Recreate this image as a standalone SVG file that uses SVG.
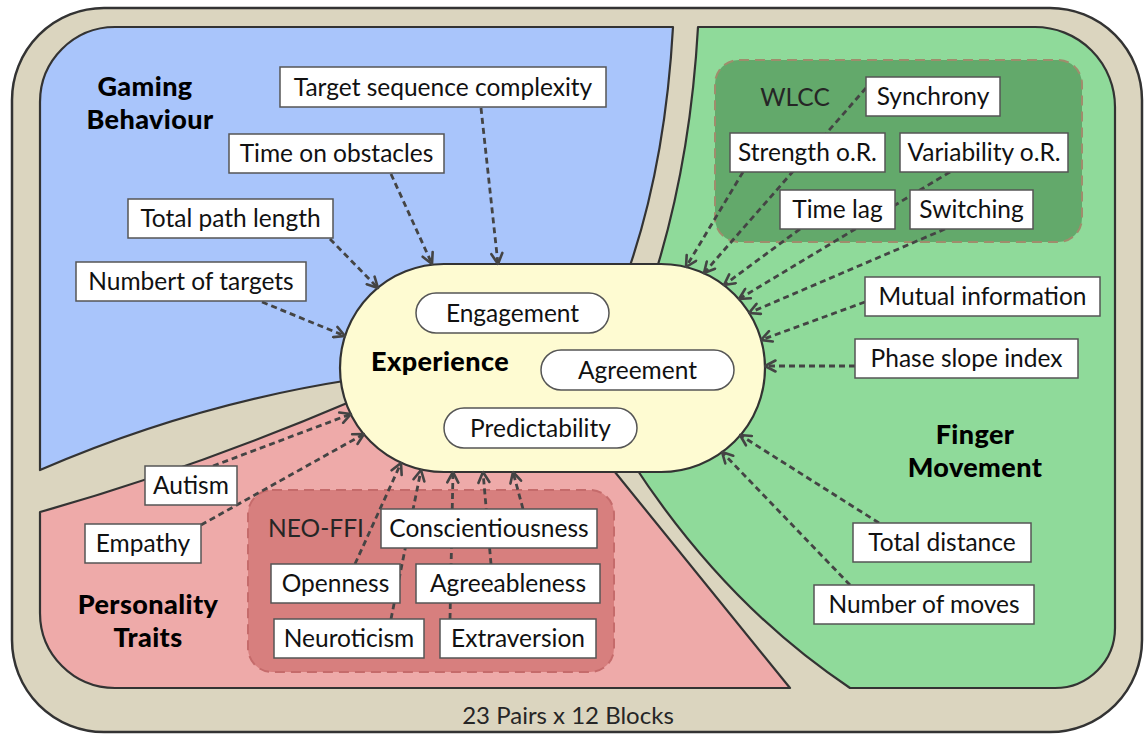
<svg xmlns="http://www.w3.org/2000/svg" width="1144" height="735" viewBox="0 0 1144 735">
  <defs>
    <marker id="chev" viewBox="0 0 14 14" refX="12.5" refY="7" markerWidth="14" markerHeight="14" markerUnits="userSpaceOnUse" orient="auto">
      <path d="M2,1.5 L12.5,7 L2,12.5" fill="none" stroke="#444" stroke-width="2.6" stroke-linecap="round" stroke-linejoin="round"/>
    </marker>
    <style>
      .frame { fill: #dbd5bf; stroke: #333; stroke-width: 2.5; }
      .region { stroke: #333; stroke-width: 2.2; stroke-linejoin: round; }
      .blue { fill: #a9c5fb; }
      .green { fill: #8fda9a; }
      .pink { fill: #eeaaa9; }
      .grp-wlcc { fill: #63a96b; stroke: #a08c6c; stroke-width: 2; stroke-dasharray: 10 6; }
      .grp-neo { fill: #d77f7e; stroke: #c56b6b; stroke-width: 2; stroke-dasharray: 10 6; }
      .core { fill: #fefbd2; stroke: #333; stroke-width: 2.2; }
      .box { fill: #fff; stroke: #555; stroke-width: 1.5; }
      .pill { fill: #fff; stroke: #555; stroke-width: 1.5; }
      .lbl { font-family: Lato, "Noto Sans", sans-serif; font-size: 24.5px; fill: #111; text-anchor: middle; }
      .title { font-family: Lato, "Noto Sans", sans-serif; font-size: 27px; font-weight: 900; fill: #000; text-anchor: middle; letter-spacing: 0.4px; }
      .grp-lbl { font-family: Lato, "Noto Sans", sans-serif; font-size: 24.5px; fill: #262626; text-anchor: middle; }
      .edge { fill: none; stroke: #444; stroke-width: 2.8; stroke-dasharray: 6 4; marker-end: url(#chev); }
    </style>
  </defs>

  <!-- outer frame -->
  <rect class="frame" x="12" y="8" width="1130" height="724" rx="92" ry="92"/>

  <!-- category regions -->
  <path id="region-gaming" class="region blue" d="M40,470 L40,102 A75,75 0 0 1 115,27 L673,27 Q665,170 625,280 L500,360 L350,380 Q190,405 40,470 Z"/>
  <path id="region-finger" class="region green" d="M698,27 L1035,27 A80,80 0 0 1 1115,107 L1115,628 A60,60 0 0 1 1055,688 L850,688 Q724.6,604.4 632,462 L650,290 Q690,170 698,27 Z"/>
  <path id="region-personality" class="region pink" d="M40,512 Q190,470 352,401 L500,440 L606,461 L790,688 L115,688 A75,75 0 0 1 40,613 Z"/>

  <!-- sub-groups -->
  <g id="group-wlcc">
    <rect class="grp-wlcc" x="715" y="60" width="367" height="182" rx="24" ry="24"/>
    <text class="grp-lbl" x="795" y="106">WLCC</text>
  </g>
  <g id="group-neo-ffi">
    <rect class="grp-neo" x="248" y="490" width="366" height="182" rx="24" ry="24"/>
    <text class="grp-lbl" x="316" y="537">NEO-FFI</text>
  </g>

  <!-- central experience node -->
  <g id="experience">
    <rect class="core" x="340" y="264" width="425" height="208" rx="104" ry="104"/>
    <text class="title" x="440" y="371">Experience</text>
    <g id="engagement">
      <rect class="pill" x="416" y="293" width="193" height="40" rx="20" ry="20"/>
      <text class="lbl" x="512.5" y="322">Engagement</text>
    </g>
    <g id="agreement">
      <rect class="pill" x="541" y="350" width="193" height="40" rx="20" ry="20"/>
      <text class="lbl" x="637.5" y="379">Agreement</text>
    </g>
    <g id="predictability">
      <rect class="pill" x="444" y="408" width="193" height="40" rx="20" ry="20"/>
      <text class="lbl" x="540.5" y="437">Predictability</text>
    </g>
  </g>

  <!-- connectors -->
  <g id="connectors">
    <line class="edge" x1="481" y1="108" x2="498" y2="264"/>
    <line class="edge" x1="391" y1="174" x2="432" y2="264"/>
    <line class="edge" x1="330" y1="239" x2="378" y2="288"/>
    <line class="edge" x1="262" y1="302" x2="345" y2="336"/>

    <line class="edge" x1="743" y1="172" x2="686" y2="267"/>
    <line class="edge" x1="866" y1="88" x2="704" y2="273"/>
    <line class="edge" x1="800" y1="229" x2="724" y2="285"/>
    <line class="edge" x1="950" y1="172" x2="739" y2="299"/>
    <line class="edge" x1="945" y1="229" x2="749" y2="313"/>
    <line class="edge" x1="865" y1="302" x2="761" y2="340"/>
    <line class="edge" x1="855" y1="366" x2="765" y2="366"/>
    <line class="edge" x1="879" y1="523" x2="740" y2="435"/>
    <line class="edge" x1="850" y1="585" x2="722" y2="452"/>

    <line class="edge" x1="213" y1="466" x2="351" y2="414"/>
    <line class="edge" x1="201" y1="525" x2="364" y2="434"/>
    <line class="edge" x1="355" y1="564" x2="401" y2="463"/>
    <line class="edge" x1="391" y1="619" x2="421" y2="470"/>
    <line class="edge" x1="450" y1="619" x2="453" y2="472"/>
    <line class="edge" x1="491" y1="564" x2="483" y2="472"/>
    <line class="edge" x1="523" y1="509" x2="513" y2="472"/>
  </g>

  <!-- region titles -->
  <g id="title-gaming">
    <text class="title" x="145" y="96">Gaming</text>
    <text class="title" x="150" y="129">Behaviour</text>
  </g>
  <g id="title-finger">
    <text class="title" x="975" y="444">Finger</text>
    <text class="title" x="975" y="477">Movement</text>
  </g>
  <g id="title-personality">
    <text class="title" x="148" y="614">Personality</text>
    <text class="title" x="148" y="647">Traits</text>
  </g>

  <!-- gaming behaviour features -->
  <g id="target-sequence-complexity"><rect class="box" x="280" y="67" width="326" height="40"/><text class="lbl" x="443" y="96">Target sequence complexity</text></g>
  <g id="time-on-obstacles"><rect class="box" x="229" y="134" width="215" height="39"/><text class="lbl" x="336.5" y="162">Time on obstacles</text></g>
  <g id="total-path-length"><rect class="box" x="128" y="199" width="205" height="39"/><text class="lbl" x="230.5" y="227">Total path length</text></g>
  <g id="number-of-targets"><rect class="box" x="76" y="262" width="230" height="39"/><text class="lbl" x="191" y="290">Numbert of targets</text></g>

  <!-- finger movement features -->
  <g id="synchrony"><rect class="box" x="866" y="77" width="134" height="39"/><text class="lbl" x="933" y="105">Synchrony</text></g>
  <g id="strength"><rect class="box" x="730" y="133" width="155" height="39"/><text class="lbl" x="807.5" y="161">Strength o.R.</text></g>
  <g id="variability"><rect class="box" x="900" y="133" width="168" height="39"/><text class="lbl" x="984" y="161">Variability o.R.</text></g>
  <g id="time-lag"><rect class="box" x="780" y="190" width="115" height="39"/><text class="lbl" x="837.5" y="218">Time lag</text></g>
  <g id="switching"><rect class="box" x="910" y="190" width="123" height="39"/><text class="lbl" x="971.5" y="218">Switching</text></g>
  <g id="mutual-information"><rect class="box" x="865" y="277" width="235" height="39"/><text class="lbl" x="982.5" y="305">Mutual information</text></g>
  <g id="phase-slope-index"><rect class="box" x="855" y="339" width="223" height="39"/><text class="lbl" x="966.5" y="367">Phase slope index</text></g>
  <g id="total-distance"><rect class="box" x="853" y="523" width="178" height="39"/><text class="lbl" x="942" y="551">Total distance</text></g>
  <g id="number-of-moves"><rect class="box" x="814" y="585" width="220" height="39"/><text class="lbl" x="924" y="613">Number of moves</text></g>

  <!-- personality features -->
  <g id="autism"><rect class="box" x="145" y="466" width="92" height="39"/><text class="lbl" x="191" y="494">Autism</text></g>
  <g id="empathy"><rect class="box" x="85" y="524" width="116" height="39"/><text class="lbl" x="143" y="552">Empathy</text></g>
  <g id="conscientiousness"><rect class="box" x="381" y="509" width="216" height="39"/><text class="lbl" x="489" y="537">Conscientiousness</text></g>
  <g id="openness"><rect class="box" x="271" y="564" width="129" height="39"/><text class="lbl" x="335.5" y="592">Openness</text></g>
  <g id="agreeableness"><rect class="box" x="416" y="564" width="184" height="39"/><text class="lbl" x="508" y="592">Agreeableness</text></g>
  <g id="neuroticism"><rect class="box" x="274" y="619" width="150" height="39"/><text class="lbl" x="349" y="647">Neuroticism</text></g>
  <g id="extraversion"><rect class="box" x="440" y="619" width="156" height="39"/><text class="lbl" x="518" y="647">Extraversion</text></g>

  <!-- caption -->
  <text class="grp-lbl" x="568" y="724" style="font-size:24px">23 Pairs x 12 Blocks</text>
</svg>
